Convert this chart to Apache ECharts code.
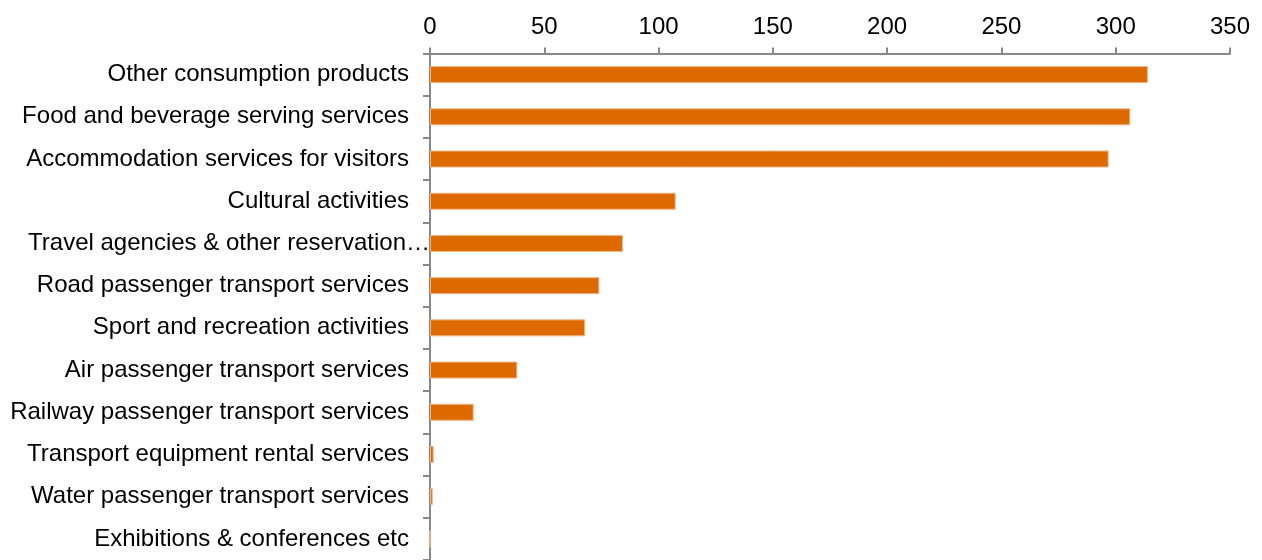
<!DOCTYPE html>
<html>
<head>
<meta charset="utf-8">
<script src="https://cdn.jsdelivr.net/npm/echarts@6/dist/echarts.min.js"></script>
<style>
  html, body { margin: 0; padding: 0; background: #ffffff; }
  #chart { width: 1262px; height: 560px; }
</style>
</head>
<body>
<div id="chart"></div>
<script>
// Tourism consumption by product, listed top to bottom
const categories = [
  'Other consumption products',
  'Food and beverage serving services',
  'Accommodation services for visitors',
  'Cultural activities',
  'Travel agencies & other reservation services',
  'Road passenger transport services',
  'Sport and recreation activities',
  'Air passenger transport services',
  'Railway passenger transport services',
  'Transport equipment rental services',
  'Water passenger transport services',
  'Exhibitions & conferences etc'
];
const values = [314.1, 306.4, 296.9, 107.5, 84.4, 74.1, 67.9, 38.2, 19.1, 1.6, 1.2, 0];
const xTicks = { min: 0, max: 350, interval: 50 };

// Labels longer than this are shortened with an ellipsis
const maxLabelChars = 40;
const keepChars = 35;

const chart = echarts.init(document.getElementById('chart'), null, { renderer: 'canvas' });

const axisGray = '#888888';
const font = '"Liberation Sans", Arial, sans-serif';

chart.setOption({
  backgroundColor: '#ffffff',
  animation: false,
  grid: { left: 430, top: 53.5, width: 800, height: 511.5, containLabel: false },
  xAxis: {
    type: 'value',
    position: 'top',
    min: xTicks.min,
    max: xTicks.max,
    interval: xTicks.interval,
    axisLine: { show: true, lineStyle: { color: axisGray, width: 2 } },
    axisTick: { show: true, length: 6, lineStyle: { color: axisGray, width: 2 } },
    splitLine: { show: false },
    axisLabel: { color: '#000', fontSize: 24, fontFamily: font, margin: 14 }
  },
  yAxis: {
    type: 'category',
    inverse: true,
    data: categories,
    axisLine: { show: true, lineStyle: { color: axisGray, width: 2 } },
    axisTick: { show: true, length: 7, lineStyle: { color: axisGray, width: 2 } },
    axisLabel: {
      color: '#000',
      fontSize: 24,
      fontFamily: font,
      margin: 21,
      formatter: function (v) {
        if (v.length > maxLabelChars) {
          return '{long|' + v.slice(0, keepChars) + '…}';
        }
        return v;
      },
      rich: {
        long: { fontSize: 24, fontFamily: font, color: '#000', padding: [0, -21, 0, 0] }
      }
    }
  },
  series: [{
    type: 'bar',
    data: values,
    barWidth: 17,
    itemStyle: { color: '#DD6A00', borderColor: '#F3B585', borderWidth: 1 }
  }]
});
</script>
</body>
</html>
